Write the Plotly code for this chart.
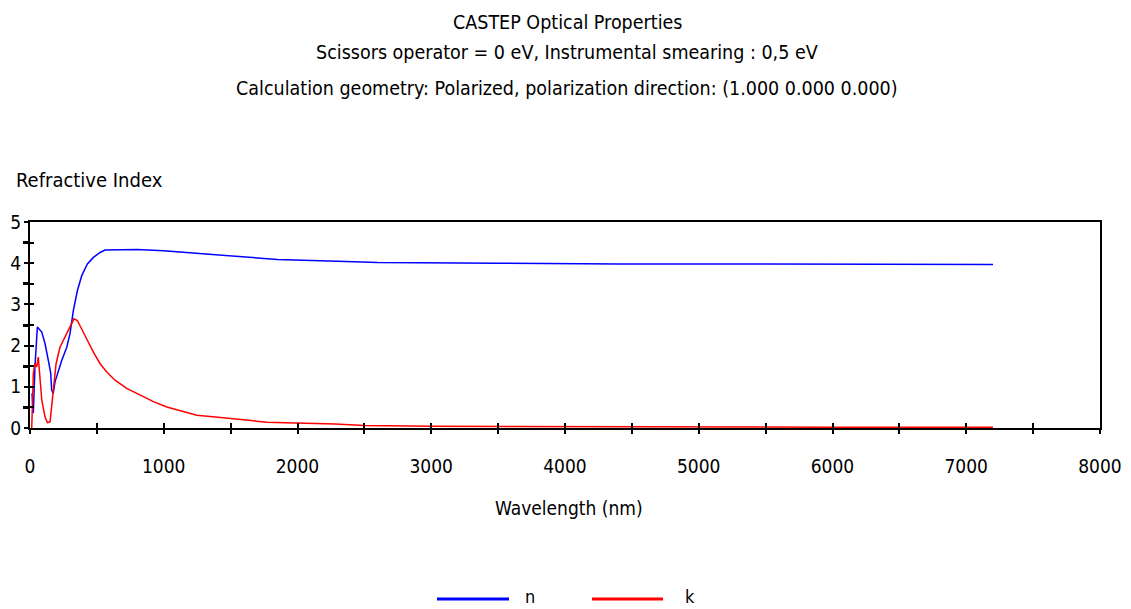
import plotly.graph_objects as go

# Refractive index n(λ)
wl_n = [15, 25, 37, 55, 88, 112, 137, 155, 162, 174, 187, 212, 237, 275, 299, 324,
        354, 387, 429, 474, 524, 561, 800, 1000, 1250, 1500, 1850, 2300, 2600, 3500,
        4400, 5500, 7200]
n_vals = [0.84, 0.36, 1.48, 2.45, 2.33, 2.05, 1.64, 1.33, 0.92, 0.84, 1.12, 1.40, 1.64,
          1.96, 2.29, 2.85, 3.33, 3.70, 3.98, 4.14, 4.26, 4.32, 4.33, 4.30, 4.24, 4.17,
          4.09, 4.05, 4.02, 4.00, 3.98, 3.98, 3.97]

# Extinction coefficient k(λ)
wl_k = [13, 25, 37, 50, 62, 75, 88, 112, 130, 150, 162, 174, 195, 224, 262, 299, 329,
        354, 387, 429, 474, 524, 574, 636, 723, 823, 923, 1023, 1147, 1247, 1445, 1645,
        1770, 2280, 2500, 3000, 4000, 4940, 6000, 7200]
k_vals = [0.0, 1.33, 1.57, 1.48, 1.72, 1.24, 0.68, 0.27, 0.13, 0.15, 0.51, 1.00, 1.56,
          1.96, 2.20, 2.45, 2.65, 2.61, 2.41, 2.13, 1.84, 1.56, 1.36, 1.16, 0.96, 0.80,
          0.64, 0.51, 0.39, 0.31, 0.25, 0.19, 0.14, 0.10, 0.06, 0.04, 0.03, 0.02, 0.02,
          0.02]

x_ticks = [0, 1000, 2000, 3000, 4000, 5000, 6000, 7000, 8000]
y_ticks = [0, 1, 2, 3, 4, 5]

FONT = "DejaVu Sans Condensed, DejaVu Sans, sans-serif"

fig = go.Figure()
fig.add_trace(go.Scatter(x=wl_n, y=n_vals, mode="lines", name="n",
                         line=dict(color="#0000ff", width=1.5), showlegend=False))
fig.add_trace(go.Scatter(x=wl_k, y=k_vals, mode="lines", name="k",
                         line=dict(color="#ff0000", width=1.5), showlegend=False))

W, H = 1131, 609
L, R, T, B = 30, 31, 222, 181
pw, ph = W - L - R, H - T - B


def px(x):
    return (x - L) / pw


def py(y):
    return (H - B - y) / ph


fig.update_layout(
    width=W, height=H,
    margin=dict(l=L, r=R, t=T, b=B),
    paper_bgcolor="white", plot_bgcolor="white",
    font=dict(family=FONT, color="black", size=19.5),
    # primary axes: labels + inward half of each tick
    xaxis=dict(range=[0, 8000], tickvals=x_ticks, ticks="inside", ticklen=5,
               tickwidth=1.5, tickcolor="black", showline=True, linecolor="black",
               linewidth=2, mirror=True, showgrid=False, zeroline=False,
               automargin=False, ticklabelstandoff=20, tickfont=dict(size=19),
               minor=dict(dtick=500, ticks="inside", ticklen=5, tickwidth=1.5,
                          tickcolor="black")),
    # overlay axes: outward half of each tick
    xaxis2=dict(range=[0, 8000], overlaying="x", anchor="y", side="bottom",
                dtick=500, ticks="outside", ticklen=5, tickwidth=1.5,
                tickcolor="black", showticklabels=False, showgrid=False,
                zeroline=False, showline=False),
    yaxis=dict(range=[0, 5], tickvals=y_ticks, ticks="inside", ticklen=4,
               tickwidth=1.5, tickcolor="black", showline=True, linecolor="black",
               linewidth=2, mirror=True, showgrid=False, zeroline=False,
               automargin=False, ticklabelstandoff=3, tickfont=dict(size=19),
               minor=dict(dtick=0.5, ticks="inside", ticklen=4, tickwidth=1.5,
                          tickcolor="black")),
    yaxis2=dict(range=[0, 5], overlaying="y", anchor="x", side="left",
                tickvals=[0.5, 1.5, 2.5, 3.5, 4.5], ticks="outside", ticklen=6,
                tickwidth=3, tickcolor="black", showticklabels=False,
                showgrid=False, zeroline=False, showline=False,
                minor=dict(dtick=1, ticks="outside", ticklen=5, tickwidth=1.5,
                           tickcolor="black")),
)

# invisible trace so the overlay axes are drawn
fig.add_trace(go.Scatter(x=[0], y=[0], xaxis="x2", yaxis="y2", mode="markers",
                         marker=dict(opacity=0), showlegend=False, hoverinfo="skip"))

titles = [
    ("CASTEP Optical Properties", 22),
    ("Scissors operator = 0 eV, Instrumental smearing : 0,5 eV", 53),
    ("Calculation geometry: Polarized, polarization direction: (1.000 0.000 0.000)", 88),
]
for text, y in titles:
    fig.add_annotation(text=text, xref="paper", yref="paper", x=px(567), y=py(y),
                       xanchor="center", yanchor="middle", showarrow=False,
                       font=dict(size=19.5))

fig.add_annotation(text="Refractive Index", xref="paper", yref="paper", x=px(14),
                   y=py(180), xanchor="left", yanchor="middle", showarrow=False,
                   font=dict(size=20))
fig.add_annotation(text="Wavelength (nm)", xref="paper", yref="paper", x=px(569),
                   y=py(508), xanchor="center", yanchor="middle", showarrow=False,
                   font=dict(size=19))

# legend
for (x0, x1, lx, color, label) in [(437, 509, 530, "#0000ff", "n"),
                                   (592, 663, 690, "#ff0000", "k")]:
    fig.add_shape(type="line", xref="paper", yref="paper", x0=px(x0), x1=px(x1),
                  y0=py(599), y1=py(599), line=dict(color=color, width=3))
    fig.add_annotation(text=label, xref="paper", yref="paper", x=px(lx), y=py(596),
                       xanchor="center", yanchor="middle", showarrow=False,
                       font=dict(size=18))

fig.write_html("out.html")
